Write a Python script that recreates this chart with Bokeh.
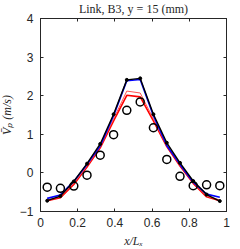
from bokeh.plotting import figure
from bokeh.models import FixedTicker, LinearAxis, CustomJSTickFormatter, Range1d
from bokeh.embed import file_html
from bokeh.resources import INLINE

x_pos = [0.036, 0.107, 0.179, 0.250, 0.321, 0.393, 0.464, 0.536, 0.607, 0.679, 0.750, 0.821, 0.893, 0.964]
exp_vals = [-0.37, -0.40, -0.34, -0.06, 0.46, 0.99, 1.62, 1.84, 1.17, 0.35, -0.09, -0.33, -0.31, -0.33]
black_vals = [-0.72, -0.60, -0.22, 0.24, 0.75, 1.52, 2.41, 2.45, 1.52, 0.78, 0.26, -0.21, -0.56, -0.73]
blue_vals = [-0.66, -0.57, -0.22, 0.22, 0.70, 1.48, 2.39, 2.42, 1.48, 0.71, 0.22, -0.24, -0.55, -0.63]
red_vals = [-0.72, -0.64, -0.30, 0.15, 0.65, 1.35, 2.01, 1.97, 1.35, 0.68, 0.18, -0.27, -0.62, -0.72]
red2_vals = [-0.70, -0.62, -0.27, 0.18, 0.68, 1.40, 2.12, 2.07, 1.40, 0.70, 0.20, -0.25, -0.60, -0.70]

x_ticks = [0, 0.2, 0.4, 0.6, 0.8, 1]
x_tick_labels = ["0", "0.2", "0.4", "0.6", "0.8", "1"]
y_ticks = [-1, 0, 1, 2, 3, 4]
title_text = "Link, B3, y = 15 (mm)"
x_label = "x/Lₓ"
y_label = "V̄ₚ (m/s)"

axis_col = "#262626"

p = figure(width=235, height=254, output_backend="svg", toolbar_location=None,
           x_range=Range1d(0, 1), y_range=Range1d(-1, 4),
           min_border_left=36, min_border_right=5, min_border_top=21, min_border_bottom=38,
           title=title_text)
p.styles = {"margin-left": "-4px", "margin-top": "-4px"}
p.title.align = "center"
p.title.text_font = "Liberation Serif"
p.title.text_font_size = "12px"
p.title.text_font_style = "normal"
p.title.text_color = axis_col
p.title.standoff = 6
p.title.offset = 0
p.xgrid.visible = False
p.ygrid.visible = False
p.outline_line_color = axis_col
p.outline_line_width = 1
p.background_fill_color = "white"
p.border_fill_color = "white"

for ax in (p.xaxis[0], p.yaxis[0]):
    ax.major_tick_in = 3
    ax.major_tick_out = 0
    ax.minor_tick_line_color = None
    ax.axis_line_color = axis_col
    ax.major_tick_line_color = axis_col
    ax.major_label_text_font = "Liberation Sans"
    ax.major_label_text_font_size = "12px"
    ax.major_label_text_color = axis_col
    ax.axis_label_text_font = "Liberation Serif"
    ax.axis_label_text_font_size = "12px"
    ax.axis_label_text_font_style = "italic"
    ax.axis_label_text_color = axis_col

p.xaxis[0].ticker = FixedTicker(ticks=x_ticks)
p.xaxis[0].major_label_overrides = {t: l for t, l in zip(x_ticks, x_tick_labels)}
p.yaxis[0].ticker = FixedTicker(ticks=y_ticks)
p.xaxis[0].axis_label = x_label
p.yaxis[0].axis_label = y_label
p.xaxis[0].major_label_standoff = 6
p.yaxis[0].major_label_standoff = 7
p.xaxis[0].axis_label_standoff = 4
p.yaxis[0].axis_label_standoff = 3

blank = CustomJSTickFormatter(code="return ''")
top_ax = LinearAxis(ticker=FixedTicker(ticks=x_ticks), formatter=blank, major_tick_in=3, major_tick_out=0,
                    minor_tick_line_color=None, axis_line_color=axis_col, major_tick_line_color=axis_col,
                    major_label_standoff=0)
right_ax = LinearAxis(ticker=FixedTicker(ticks=y_ticks), formatter=blank, major_tick_in=3, major_tick_out=0,
                      minor_tick_line_color=None, axis_line_color=axis_col, major_tick_line_color=axis_col,
                      major_label_standoff=0)
p.add_layout(top_ax, "above")
p.add_layout(right_ax, "right")

p.line(x_pos, red_vals, line_color="#ff0000", line_width=1.6)
p.line(x_pos, red2_vals, line_color="#ff5555", line_width=1.0)
p.line(x_pos, blue_vals, line_color="#0000ff", line_width=1.6)
p.line(x_pos, black_vals, line_color="black", line_width=1.4)
p.scatter(x_pos, black_vals, marker="circle", size=3, color="black")
p.scatter(x_pos, exp_vals, marker="circle", size=8, fill_color=None, line_color="black", line_width=1.5)

open("out.html", "w").write(file_html(p, INLINE))
